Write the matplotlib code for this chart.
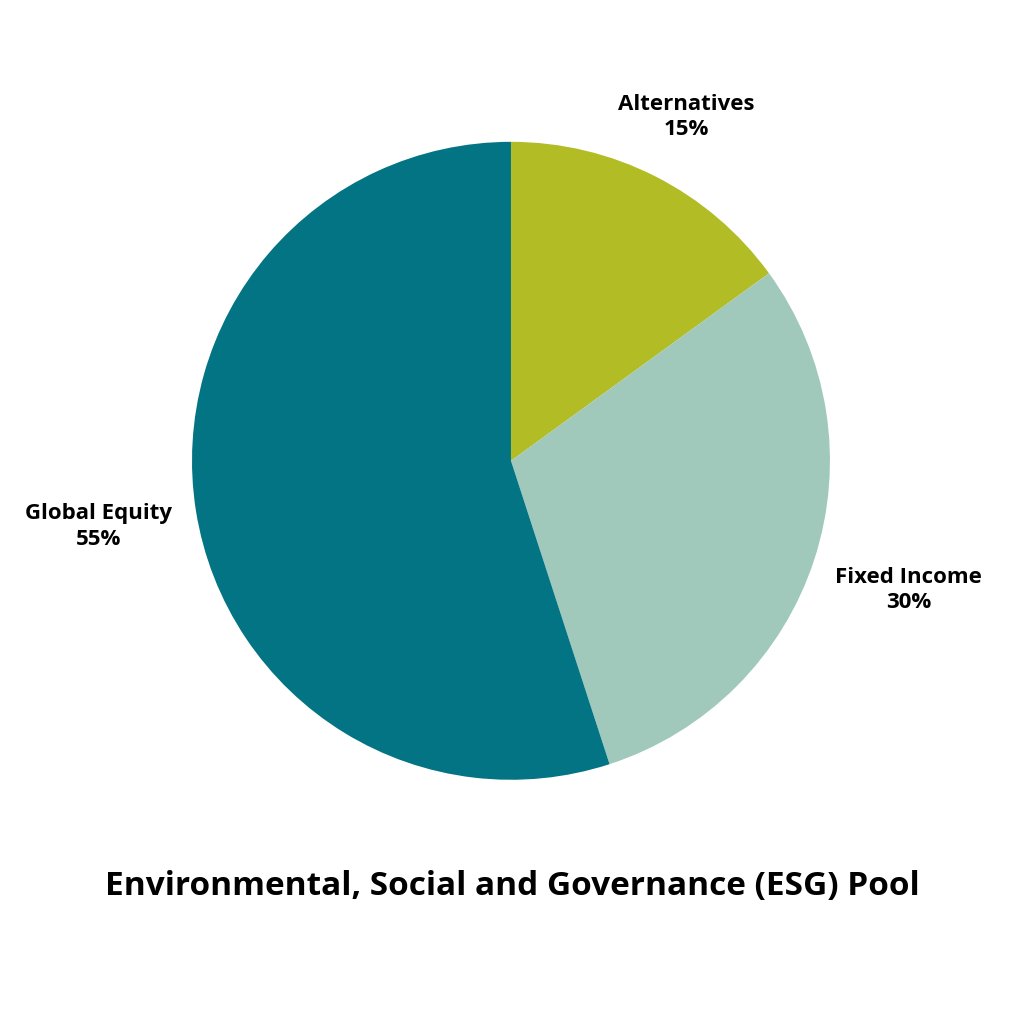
import numpy as np
import matplotlib
matplotlib.use("Agg")
import matplotlib.pyplot as plt

categories = ["Alternatives", "Fixed Income", "Global Equity"]
values = [15, 30, 55]
colors = ["#B2BC25", "#A0C8BB", "#037483"]
label_dist = [1.21, 1.31, 1.31]

plt.rcParams['font.family'] = ['Open Sans', 'DejaVu Sans']
fig = plt.figure(figsize=(10.24, 10.24), dpi=100)
r = 0.3115
ax = fig.add_axes([0.499 - r, 0.55 - r, 2 * r, 2 * r])
ax.pie(values, colors=colors, startangle=90, counterclock=False, radius=1,
       wedgeprops=dict(linewidth=0))
ax.set_xlim(-1, 1); ax.set_ylim(-1, 1); ax.set_aspect('equal')
start = 90.0
for cat, v, d in zip(categories, values, label_dist):
    mid = np.deg2rad(start - v * 3.6 / 2)
    start -= v * 3.6
    ax.text(d * np.cos(mid), d * np.sin(mid), f"{cat}\n{v}%", ha='center', va='center',
            fontsize=16, fontweight='bold', linespacing=1.3, clip_on=False)
fig.text(0.5, 1 - 887 / 1024, "Environmental, Social and Governance (ESG) Pool",
         ha='center', va='center', fontsize=24, fontweight='bold')
fig.savefig("out.png", dpi=100, facecolor='white')
